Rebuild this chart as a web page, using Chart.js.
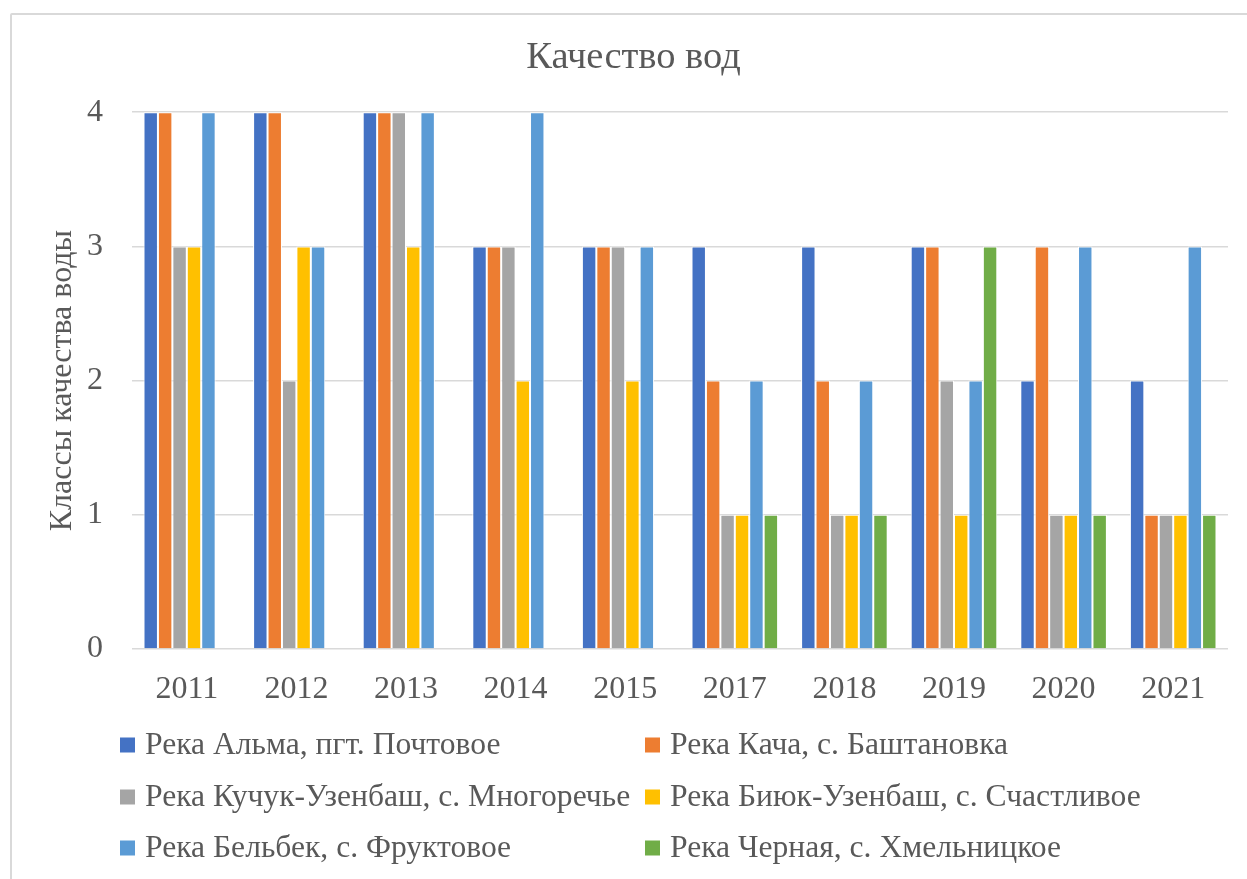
<!DOCTYPE html>
<html lang="ru">
<head>
<meta charset="utf-8">
<title>Качество вод</title>
<script src="https://cdn.jsdelivr.net/npm/chart.js@4/dist/chart.umd.min.js"></script>
<style>
  html, body { margin: 0; padding: 0; background: #fff; overflow: hidden; }
  .frame {
    position: absolute; left: 10px; top: 13px;
    width: 1300px; height: 900px;
    border: 2px solid #d9d9d9; border-radius: 2px;
  }
  .wrap { position: absolute; left: 10px; top: 0; width: 1247px; height: 879px; }
</style>
</head>
<body>
<div class="frame"></div>
<div class="wrap"><canvas id="quality"></canvas></div>
<script>
const years = ['2011', '2012', '2013', '2014', '2015', '2017', '2018', '2019', '2020', '2021'];

// класс качества воды по годам для каждого пункта наблюдений
const almaPochtovoe       = [4, 4, 4, 3, 3, 3, 3, 3, 2, 2];
const kachaBashtanovka    = [4, 4, 4, 3, 3, 2, 2, 3, 3, 1];
const kuchukMnogorechye   = [3, 2, 4, 3, 3, 1, 1, 2, 1, 1];
const biyukSchastlivoe    = [3, 3, 3, 2, 2, 1, 1, 1, 1, 1];
const belbekFruktovoe     = [4, 3, 4, 4, 3, 2, 2, 2, 3, 3];
const chernayaKhmelnitsk  = [null, null, null, null, null, 1, 1, 3, 1, 1];

const seriesNames = [
    'Река Альма, пгт. Почтовое',
    'Река Кача, с. Баштановка',
    'Река Кучук-Узенбаш, с. Многоречье',
    'Река Биюк-Узенбаш, с. Счастливое',
    'Река Бельбек, с. Фруктовое',
    'Река Черная, с. Хмельницкое'
];
const seriesValues = [almaPochtovoe, kachaBashtanovka, kuchukMnogorechye, biyukSchastlivoe, belbekFruktovoe, chernayaKhmelnitsk];
const seriesColors = ['#4472c4', '#ed7d31', '#a5a5a5', '#ffc000', '#5b9bd5', '#70ad47'];
const yTicks = [0, 1, 2, 3, 4];

const FONT = '"Liberation Serif", "Times New Roman", serif';
const TEXT = '#595959';

// легенда в две колонки под осью X
const twoColumnLegend = {
    id: 'twoColumnLegend',
    afterDraw(chart) {
        const ctx = chart.ctx;
        const cols = [110, 635];
        const rows = [745, 797, 848];
        ctx.save();
        ctx.font = '31.6px ' + FONT;
        ctx.textBaseline = 'middle';
        ctx.textAlign = 'left';
        chart.data.datasets.forEach((ds, i) => {
            const x = cols[i % 2];
            const y = rows[Math.floor(i / 2)];
            ctx.fillStyle = ds.backgroundColor;
            ctx.fillRect(x, y - 7.5, 15, 15);
            ctx.fillStyle = TEXT;
            ctx.fillText(ds.label, x + 25, y + 1);
        });
        ctx.restore();
    }
};

const ctx = document.getElementById('quality');
new Chart(ctx, {
    type: 'bar',
    data: {
        labels: years,
        datasets: seriesNames.map((name, i) => ({
            label: name,
            data: seriesValues[i],
            backgroundColor: seriesColors[i],
            borderColor: '#ffffff',
            borderWidth: 1,
            categoryPercentage: 0.79,
            barPercentage: 1.0
        }))
    },
    options: {
        responsive: true,
        maintainAspectRatio: false,
        animation: false,
        // одинаковые поля слева и справа, чтобы заголовок стоял по центру рамки
        layout: { padding: { left: 29, right: 29, top: 0, bottom: 0 } },
        plugins: {
            legend: { display: false },
            tooltip: { enabled: false },
            title: {
                display: true,
                text: 'Качество вод',
                color: TEXT,
                font: { family: FONT, size: 38.5, weight: 'normal', lineHeight: 1.2 },
                padding: { top: 35, bottom: 31 }
            }
        },
        scales: {
            x: {
                grid: { display: false, drawTicks: false },
                border: { display: false },
                ticks: {
                    color: TEXT,
                    padding: 21,
                    font: { family: FONT, size: 32 }
                },
                afterFit(scale) { scale.height = 230; }
            },
            y: {
                min: 0,
                max: 4,
                afterBuildTicks(scale) { scale.ticks = yTicks.map(v => ({ value: v })); },
                grid: { color: '#d9d9d9', lineWidth: 1.5, drawTicks: false },
                border: { display: false },
                ticks: {
                    color: TEXT,
                    padding: 29,
                    font: { family: FONT, size: 32 }
                },
                title: {
                    display: true,
                    text: 'Классы качества воды',
                    color: TEXT,
                    font: { family: FONT, size: 32, lineHeight: 1.2 },
                    padding: { top: 4, bottom: 0 }
                },
                afterFit(scale) { scale.width = 93; }
            }
        }
    },
    plugins: [twoColumnLegend]
});
</script>
</body>
</html>
